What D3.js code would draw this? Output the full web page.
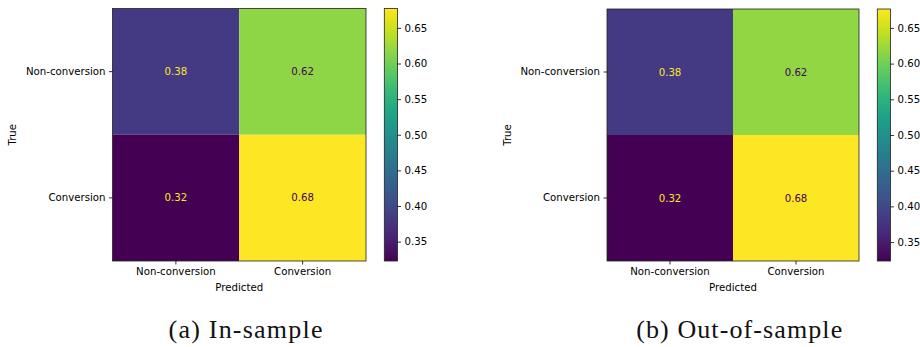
<!DOCTYPE html>
<html>
<head>
<meta charset="utf-8">
<script src="https://cdn.jsdelivr.net/npm/d3@7"></script>
<style>
  html, body { margin: 0; padding: 0; background: #fff; }
  svg { display: block; }
</style>
</head>
<body>
<svg id="chart" width="920" height="347"></svg>
<script>
// Normalised confusion matrices (rows = true class, columns = predicted class)
const classes = ["Non-conversion", "Conversion"];
const inSample = [[0.3836, 0.6164], [0.3228, 0.6772]];
const outOfSample = [[0.3820, 0.6180], [0.3235, 0.6765]];
const colorbarTicks = [0.35, 0.40, 0.45, 0.50, 0.55, 0.60, 0.65];
const captions = ["(a) In-sample", "(b) Out-of-sample"];

const panels = [
  { matrix: inSample, caption: captions[0], left: 112.5, top: 8.5, right: 366, bottom: 261,
    cbLeft: 384.3, cbRight: 397.5, capX: 245.5, capW: 154 },
  { matrix: outOfSample, caption: captions[1], left: 607, top: 9, right: 859, bottom: 261,
    cbLeft: 877.3, cbRight: 890.5, capX: 739.2, capW: 206 }
];

const svg = d3.select("#chart");
const sans = "'DejaVu Sans', sans-serif";
const tickFont = 10.2;

panels.forEach((p, pi) => {
  const g = svg.append("g");
  const flat = p.matrix.flat();
  const vmin = d3.min(flat), vmax = d3.max(flat);
  const color = d3.scaleSequential(d3.interpolateViridis).domain([vmin, vmax]);

  const x = d3.scaleBand().domain(classes).range([p.left, p.right]);
  const y = d3.scaleBand().domain(classes).range([p.top, p.bottom]);

  const cells = [];
  p.matrix.forEach((row, i) => row.forEach((v, j) => cells.push({ t: classes[i], pr: classes[j], v })));

  g.selectAll("rect.cell").data(cells).enter().append("rect")
    .attr("class", "cell")
    .attr("x", d => x(d.pr)).attr("y", d => y(d.t))
    .attr("width", x.bandwidth()).attr("height", y.bandwidth())
    .attr("fill", d => color(d.v));

  const thresh = (vmin + vmax) / 2;
  g.selectAll("text.val").data(cells).enter().append("text")
    .attr("class", "val")
    .attr("x", d => x(d.pr) + x.bandwidth() / 2)
    .attr("y", d => y(d.t) + y.bandwidth() / 2)
    .attr("text-anchor", "middle").attr("dominant-baseline", "central")
    .attr("font-family", sans).attr("font-size", tickFont)
    .attr("fill", d => d.v < thresh ? d3.interpolateViridis(1) : d3.interpolateViridis(0))
    .text(d => d3.format(".2f")(d.v));

  // frame
  g.append("rect").attr("x", p.left).attr("y", p.top)
    .attr("width", p.right - p.left).attr("height", p.bottom - p.top)
    .attr("fill", "none").attr("stroke", "#222").attr("stroke-width", 0.8);

  // axes
  const xAxis = d3.axisBottom(x).tickSizeInner(3.5).tickSizeOuter(0).tickPadding(3.5);
  const gx = g.append("g").attr("transform", `translate(0,${p.bottom})`).call(xAxis);
  const yAxis = d3.axisLeft(y).tickSizeInner(3.5).tickSizeOuter(0).tickPadding(3.5);
  const gy = g.append("g").attr("transform", `translate(${p.left},0)`).call(yAxis);
  [gx, gy].forEach(a => {
    a.select(".domain").remove();
    a.selectAll("line").attr("stroke", "#000").attr("stroke-width", 0.8);
    a.selectAll("text").attr("font-family", sans).attr("font-size", tickFont).attr("fill", "#000");
  });

  g.append("text")
    .attr("x", (p.left + p.right) / 2).attr("y", p.bottom + 30)
    .attr("text-anchor", "middle").attr("font-family", sans).attr("font-size", tickFont)
    .text("Predicted");
  g.append("text")
    .attr("transform", `translate(${p.left - 96.5},${(p.top + p.bottom) / 2}) rotate(-90)`)
    .attr("text-anchor", "middle").attr("font-family", sans).attr("font-size", tickFont)
    .text("True");

  // colorbar
  const gradId = "viridis" + pi;
  const grad = svg.append("defs").append("linearGradient").attr("id", gradId)
    .attr("x1", 0).attr("y1", 1).attr("x2", 0).attr("y2", 0);
  d3.range(0, 1.0001, 0.05).forEach(t => {
    grad.append("stop").attr("offset", t).attr("stop-color", d3.interpolateViridis(t));
  });
  g.append("rect").attr("x", p.cbLeft).attr("y", p.top)
    .attr("width", p.cbRight - p.cbLeft).attr("height", p.bottom - p.top)
    .attr("fill", `url(#${gradId})`).attr("stroke", "#222").attr("stroke-width", 0.8);

  const cb = d3.scaleLinear().domain([vmin, vmax]).range([p.bottom, p.top]);
  const cbAxis = d3.axisRight(cb).tickValues(colorbarTicks).tickFormat(d3.format(".2f"))
    .tickSizeInner(3.5).tickSizeOuter(0).tickPadding(3.5);
  const gc = g.append("g").attr("transform", `translate(${p.cbRight},0)`).call(cbAxis);
  gc.select(".domain").remove();
  gc.selectAll("line").attr("stroke", "#000").attr("stroke-width", 0.8);
  gc.selectAll("text").attr("font-family", sans).attr("font-size", tickFont).attr("fill", "#000");

  // caption
  svg.append("text")
    .attr("x", p.capX).attr("y", 338)
    .attr("text-anchor", "middle")
    .attr("font-family", "'Liberation Serif', 'Times New Roman', serif")
    .attr("font-size", 26)
    .attr("textLength", p.capW).attr("lengthAdjust", "spacing")
    .attr("fill", "#111")
    .text(p.caption);
});
</script>
</body>
</html>
